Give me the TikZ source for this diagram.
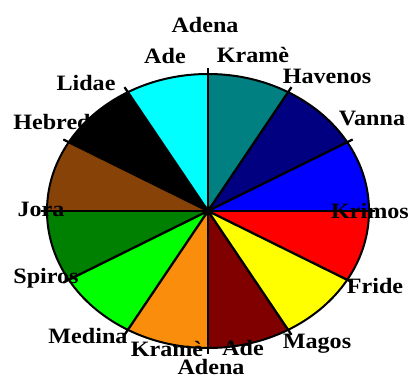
\documentclass[tikz,border=0pt]{standalone}
\usepackage{fontspec}
\setmainfont{Liberation Serif}[FakeStretch=1.1]
\begin{document}
\begin{tikzpicture}[x=1bp,y=1bp,
  lbl/.style={font=\fontsize{22}{22}\selectfont\bfseries, inner sep=0pt, anchor=base, text=black},
  divider/.style={line width=2.3bp, black},
  rim/.style={line width=2bp, black}]
\definecolor{cBlue}{RGB}{0,0,255}
\definecolor{cNavy}{RGB}{0,0,128}
\definecolor{cTeal}{RGB}{0,128,128}
\definecolor{cCyan}{RGB}{0,255,255}
\definecolor{cBlack}{RGB}{0,0,0}
\definecolor{cBrown}{RGB}{135,66,8}
\definecolor{cGreen}{RGB}{0,128,0}
\definecolor{cLime}{RGB}{0,255,0}
\definecolor{cOrange}{RGB}{250,142,12}
\definecolor{cMaroon}{RGB}{128,0,0}
\definecolor{cYellow}{RGB}{255,255,0}
\definecolor{cRed}{RGB}{255,0,0}
\useasboundingbox (0,0) rectangle (411,379);
\fill[white] (0,0) rectangle (411,379);
\coordinate (C) at (208,168);
\foreach \a/\col in {0/cBlue,30/cNavy,60/cTeal,90/cCyan,120/cBlack,150/cBrown,180/cGreen,210/cLime,240/cOrange,270/cMaroon,300/cYellow,330/cRed}{
  \fill[\col] (C) -- ++(\a:161bp and 137bp) arc[start angle=\a, delta angle=30, x radius=161bp, y radius=137bp] -- cycle;
}
\draw[rim] (C) ellipse[x radius=161bp, y radius=137bp];
\foreach \a in {0,30,...,330}{
  \draw[divider] (C) -- ++(\a:167bp and 143bp);
}
\fill[black] (C) circle[radius=5bp];
\node[lbl] (adenaT) at (205,347) {Adena};
\node[lbl] (adeT) at (165,316) {Ade};
\node[lbl] (krameT) at (253,317) {Kramè};
\node[lbl] (havenos) at (327,296) {Havenos};
\node[lbl] (lidae) at (86,289) {Lidae};
\node[lbl] (vanna) at (372,254) {Vanna};
\node[lbl] (hebred) at (52,250) {Hebred};
\node[lbl] (jora) at (41,163) {Jora};
\node[lbl] (krimos) at (370,161) {Krimos};
\node[lbl] (spiros) at (46,96) {Spiros};
\node[lbl] (fride) at (375,86) {Fride};
\node[lbl] (medina) at (88,36) {Medina};
\node[lbl] (magos) at (317,31) {Magos};
\node[lbl] (krameB) at (167,22.5) {Kramè};
\node[lbl] (adeB) at (243,23.5) {Ade};
\node[lbl] (adenaB) at (211,4.5) {Adena};
\end{tikzpicture}
\end{document}
